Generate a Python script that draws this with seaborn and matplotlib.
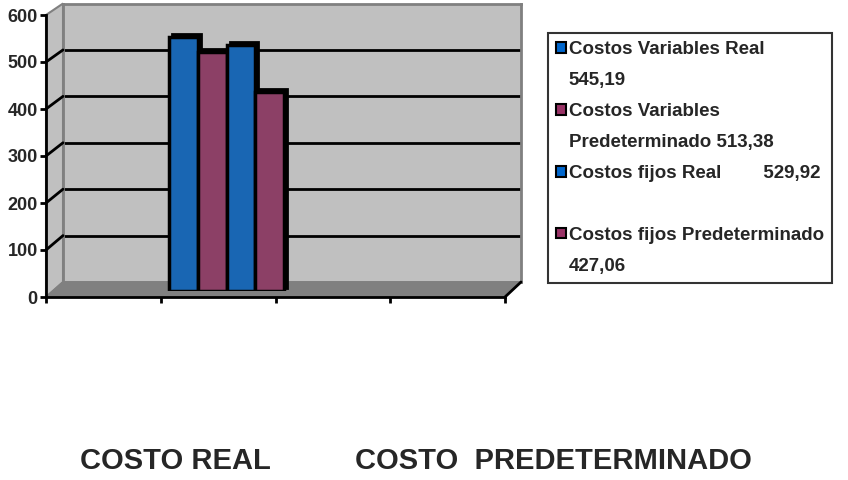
import pandas as pd
import seaborn as sns
import matplotlib.pyplot as plt
from matplotlib.patches import Polygon, Patch
from matplotlib.lines import Line2D
from matplotlib.transforms import offset_copy

# datos del grafico
categorias = ["c1", "c2", "c3", "c4"]
series = ["Costos Variables Real", "Costos Variables Predeterminado",
          "Costos fijos Real", "Costos fijos Predeterminado"]
valores = [545.19, 513.38, 529.92, 427.06]
grupo = ["c2", "c2", "c2", "c2"]
colores = ["#0066CC", "#993366", "#0066CC", "#993366"]
leyenda_1 = ["Costos Variables Real", "Costos Variables",
             "Costos fijos Real        529,92", "Costos fijos Predeterminado"]
leyenda_2 = ["545,19", "Predeterminado 513,38", " ", "427,06"]
yticks = [0, 100, 200, 300, 400, 500, 600]
textos_abajo = ["COSTO REAL", "COSTO  PREDETERMINADO"]

W, H = 848, 480
FUENTE = ["Liberation Sans", "DejaVu Sans"]


def fr(x0, y0, x1, y1):
    # caja en pixeles (arriba-izquierda) -> fracciones de figura
    return [x0 / W, 1 - y1 / H, (x1 - x0) / W, (y1 - y0) / H]


def pt(x, y):
    return (x / W, 1 - y / H)


df = pd.DataFrame({"grupo": grupo, "serie": series, "valor": valores})

sns.set_theme(style="white")
plt.rcParams["font.family"] = FUENTE
plt.rcParams["font.weight"] = "bold"

fig = plt.figure(figsize=(W / 100, H / 100), dpi=100)

# pared del fondo
ax_back = fig.add_axes(fr(63, 3.5, 521, 282), zorder=0)
ax_back.set_facecolor("#C0C0C0")
ax_back.set_ylim(0, 600)
ax_back.set_xlim(0, 1)
ax_back.set_xticks([])
ax_back.set_yticks([])
for v in yticks[1:-1]:
    ax_back.axhline(v, color="black", lw=2)
for s in ax_back.spines.values():
    s.set_color("#808080")
    s.set_linewidth(2)

# pared lateral y piso (efecto 3D)
def yf(v):
    return 297 - v * 282 / 600


def yb(v):
    return 282 - v * 278.5 / 600


side = Polygon([pt(46, yf(0)), pt(46, yf(600)), pt(63, yb(600)), pt(63, yb(0))],
               closed=True, transform=fig.transFigure, facecolor="#C0C0C0",
               edgecolor="#808080", lw=1.5, zorder=0.5)
floor = Polygon([pt(46, yf(0)), pt(505, yf(0)), pt(521, yb(0)), pt(63, yb(0))],
                closed=True, transform=fig.transFigure, facecolor="#808080",
                edgecolor="#808080", lw=1, zorder=0.5)
fig.patches.extend([side, floor])
for v in yticks[1:-1]:
    fig.lines.append(Line2D([46 / W, 63 / W], [1 - yf(v) / H, 1 - yb(v) / H],
                            transform=fig.transFigure, color="black", lw=2, zorder=0.6))
fig.lines.append(Line2D([505 / W, 521 / W], [1 - yf(0) / H, 1 - yb(0) / H],
                        transform=fig.transFigure, color="black", lw=2, zorder=0.6))

# ejes frontales
ax_front = fig.add_axes(fr(46, 15, 505, 297), zorder=1)
ax_front.patch.set_alpha(0)
ax_front.set_ylim(0, 600)
ax_front.set_xlim(0, 4)
ax_front.set_yticks(yticks)
ax_front.set_xticks([0, 1, 2, 3, 4])
ax_front.set_xticklabels([])
ax_front.tick_params(axis="both", direction="out", length=4, width=2, color="black",
                     left=True, bottom=True, labelsize=13, pad=2)
for lab in ax_front.get_yticklabels():
    lab.set_fontweight("bold")
for k in ["top", "right"]:
    ax_front.spines[k].set_visible(False)
for k in ["left", "bottom"]:
    ax_front.spines[k].set_color("black")
    ax_front.spines[k].set_linewidth(2)

# barras
ax_bar = fig.add_axes(fr(54.5, 12, 513.5, 291), zorder=2)
ax_bar.patch.set_alpha(0)
sombra = offset_copy(ax_bar.transData, fig=fig, x=3, y=3, units="dots")
sns.barplot(data=df, x="grupo", y="valor", hue="serie", order=categorias,
            hue_order=series, palette=["black"] * 4, width=1.0, dodge=True,
            legend=False, ax=ax_bar, edgecolor="black", linewidth=2)
for p in ax_bar.patches:
    p.set_transform(sombra)
sns.barplot(data=df, x="grupo", y="valor", hue="serie", order=categorias,
            hue_order=series, palette=colores, width=1.0, dodge=True,
            legend=False, ax=ax_bar, edgecolor="black", linewidth=2.5)
ax_bar.set_xlim(-0.5, 3.5)
ax_bar.set_ylim(0, 600)
ax_bar.axis("off")

# leyenda
handles, labels = [], []
for i in range(4):
    handles.append(Patch(facecolor=colores[i], edgecolor="black", lw=1.5))
    labels.append(leyenda_1[i])
    handles.append(Patch(facecolor="none", edgecolor="none"))
    labels.append(leyenda_2[i])
leg = fig.legend(handles, labels, loc="upper left", bbox_to_anchor=pt(548, 33),
                 borderaxespad=0, frameon=True, fancybox=False, handlelength=0.5,
                 handleheight=0.5, handletextpad=0.15, labelspacing=0.74,
                 borderpad=0.45, prop={"family": FUENTE, "weight": "bold", "size": 13.5})
leg.get_frame().set_edgecolor("black")
leg.get_frame().set_linewidth(1.5)

# textos inferiores
fig.text(80 / W, 1 - 469 / H, textos_abajo[0], fontsize=21, fontweight="bold",
         family="Liberation Sans", va="baseline", ha="left")
fig.text(355 / W, 1 - 469 / H, textos_abajo[1], fontsize=21, fontweight="bold",
         family="Liberation Sans", va="baseline", ha="left")

fig.savefig("out.png", dpi=100)
